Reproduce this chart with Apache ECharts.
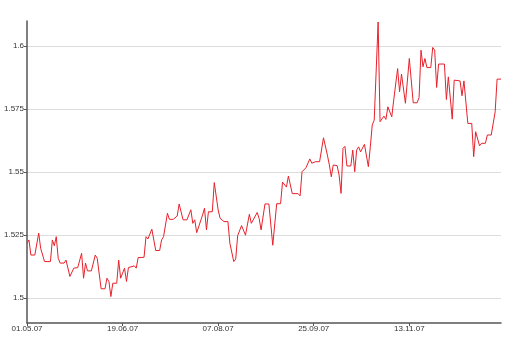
<!DOCTYPE html>
<html>
<head>
<meta charset="utf-8">
<script src="https://cdn.jsdelivr.net/npm/echarts@6/dist/echarts.min.js"></script>
<style>html,body{margin:0;padding:0;background:#fff}#c{width:520px;height:344px}</style>
</head>
<body>
<div id="c"></div>
<script>
// day offsets from 01.05.2007
const days = [0,1,2,4,6,7,8,9,12,13,14,15,16,17,19,20,22,24,26,28,29,30,31,33,35,36,38,40,41,42,43,44,46,47,48,50,51,52,53,55,56,57,60,61,62,64,66,68,69,70,72,73,75,77,78,80,82,84,85,86,87,88,90,91,92,93,95,96,98,99,101,103,104,106,107,108,109,110,112,113,114,115,116,118,119,120,122,124,126,128,130,131,133,134,135,136,139,140,141,143,144,145,146,148,150,151,152,154,155,156,157,159,160,161,162,163,164,166,167,168,169,170,171,172,173,175,176,177,178,179,180,181,182,183,184,185,186,187,188,190,191,192,193,194,196,198,200,201,202,203,204,205,207,208,209,210,211,214,215,216,218,219,222,223,224,225,226,228,229,230,232,233,235,236,238,240,241,243];
const rates = [1.5217,1.5230,1.5170,1.5170,1.5257,1.5197,1.5197,1.5144,1.5144,1.5230,1.5207,1.5243,1.5157,1.5138,1.5138,1.5150,1.5085,1.5118,1.5120,1.5177,1.5078,1.5138,1.5107,1.5107,1.5170,1.5157,1.5036,1.5036,1.5078,1.5065,1.5005,1.5058,1.5058,1.5150,1.5078,1.5118,1.5065,1.5120,1.5122,1.5127,1.5118,1.5160,1.5161,1.5243,1.5234,1.5273,1.5188,1.5188,1.5230,1.5243,1.5336,1.5312,1.5312,1.5325,1.5373,1.5310,1.5310,1.5350,1.5296,1.5310,1.5259,1.5259,1.5329,1.5356,1.5270,1.5342,1.5342,1.5458,1.5349,1.5316,1.5303,1.5303,1.5217,1.5144,1.5154,1.5247,1.5247,1.5287,1.5249,1.5243,1.5332,1.5296,1.5296,1.5339,1.5316,1.5270,1.5373,1.5373,1.5209,1.5374,1.5374,1.5460,1.5440,1.5484,1.5484,1.5414,1.5414,1.5405,1.5501,1.5517,1.5517,1.5552,1.5535,1.5541,1.5541,1.5545,1.5636,1.5567,1.5528,1.5481,1.5528,1.5525,1.5488,1.5415,1.5594,1.5602,1.5524,1.5524,1.5587,1.5501,1.5587,1.5600,1.5580,1.5582,1.5610,1.5521,1.5600,1.5687,1.5706,1.5706,1.6096,1.5700,1.5694,1.5722,1.5709,1.5759,1.5759,1.5719,1.5786,1.5911,1.5819,1.5889,1.5889,1.5773,1.5951,1.5775,1.5775,1.5796,1.5984,1.5918,1.5951,1.5915,1.5915,1.5995,1.5984,1.5836,1.5929,1.5929,1.5788,1.5878,1.5710,1.5865,1.5862,1.5803,1.5862,1.5862,1.5693,1.5693,1.5561,1.5660,1.5604,1.5614,1.5614,1.5647,1.5647,1.5739,1.5869,1.5869];
const yTicks = [1.5, 1.525, 1.55, 1.575, 1.6];
const startDate = [2007, 4, 1]; // 01.05.07 (month 0-based)
const xTickStep = 49;

function fmtDate(off) {
  const d = new Date(Date.UTC(startDate[0], startDate[1], startDate[2] + off));
  const p = n => String(n).padStart(2, '0');
  return p(d.getUTCDate()) + '.' + p(d.getUTCMonth() + 1) + '.' + String(d.getUTCFullYear()).slice(2);
}

const chart = echarts.init(document.getElementById('c'), null, {renderer: 'canvas'});
chart.setOption({
  animation: false,
  grid: {left: 27, right: 19, top: 21, bottom: 21, containLabel: false},
  xAxis: {
    type: 'value', min: 0, max: 243, interval: xTickStep,
    axisLine: {show: true, lineStyle: {color: '#555', width: 1.5}},
    axisTick: {show: true, inside: false, length: 3, lineStyle: {color: '#555'}},
    axisLabel: {margin: 2, fontSize: 8, color: '#333', showMaxLabel: false, fontFamily: 'Liberation Sans, Arial, sans-serif', formatter: v => fmtDate(v)},
    splitLine: {show: false}
  },
  yAxis: {
    type: 'value', min: 1.49, max: 1.61,
    axisLine: {show: true, lineStyle: {color: '#555', width: 1.5}},
    axisTick: {show: true, inside: false, length: 3, customValues: yTicks, lineStyle: {color: '#555'}},
    axisLabel: {margin: 3, fontSize: 8, color: '#333', fontFamily: 'Liberation Sans, Arial, sans-serif', customValues: yTicks, formatter: v => String(+v.toFixed(3))},
    splitLine: {show: true, lineStyle: {color: '#dddddd', width: 1}}
  },
  series: [{
    type: 'line',
    data: days.map((d, i) => [d, rates[i]]),
    showSymbol: false,
    symbol: 'none',
    lineStyle: {color: '#e6212b', width: 1},
    clip: false
  }]
});
</script>
</body>
</html>
